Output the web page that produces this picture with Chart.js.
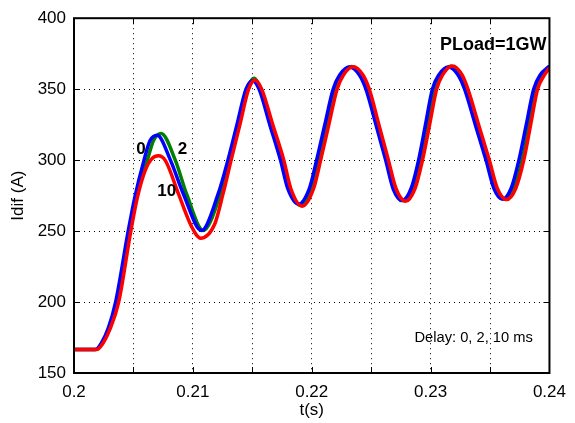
<!DOCTYPE html>
<html>
<head>
<meta charset="utf-8">
<script src="https://cdn.jsdelivr.net/npm/chart.js@4.4.0/dist/chart.umd.min.js"></script>
<style>
  html, body { margin: 0; padding: 0; background: #fff; }
</style>
</head>
<body>
<canvas id="idif" width="575" height="423"></canvas>
<script>
// Idif step response for three controller delays (0, 2, 10 ms)
var t0 = [0.2000, 0.2018, 0.2023, 0.2029, 0.2035, 0.20456, 0.20512, 0.20589, 0.20639, 0.2070,
          0.20811, 0.20921, 0.21073, 0.21212, 0.21295, 0.21371, 0.21447, 0.21502, 0.21557, 0.21647,
          0.21737, 0.21798, 0.21889, 0.2198, 0.22041, 0.2211, 0.2218, 0.22235, 0.22318, 0.22401,
          0.22456, 0.2254, 0.22622, 0.22684, 0.2276, 0.22836, 0.22899, 0.22957, 0.23015, 0.23069,
          0.2315, 0.23231, 0.23286, 0.23376, 0.23466, 0.23533, 0.23605, 0.23677, 0.23743, 0.23805,
          0.23867, 0.23922, 0.2400];
var i0 = [166.5, 166.5, 171, 182, 200, 250, 274, 300, 313.6, 317.5,
          300, 276, 250.4, 276, 300, 325, 350, 356, 350, 325,
          300, 280, 269, 280, 300, 325, 350, 360, 365.6, 360,
          350, 325, 300, 280, 271.5, 280, 300, 325, 350, 360,
          365.6, 360, 350, 325, 300, 280, 272.5, 280, 300, 325,
          350, 360, 366.3];

var t2 = [0.2000, 0.2018, 0.2023, 0.2029, 0.2036, 0.20465, 0.20522, 0.20617, 0.2067, 0.20733,
          0.20852, 0.20948, 0.21087, 0.21231, 0.21309, 0.21383, 0.21458, 0.21513, 0.21568, 0.2166,
          0.21752, 0.21812, 0.21907, 0.22002, 0.22062, 0.2213, 0.2220, 0.22252, 0.22335, 0.22418,
          0.2247, 0.22552, 0.22635, 0.2270, 0.22778, 0.22856, 0.2292, 0.2298, 0.2304, 0.23091,
          0.2317, 0.23249, 0.2330, 0.2339, 0.2348, 0.23549, 0.23625, 0.23701, 0.2377, 0.2383,
          0.2389, 0.2395, 0.2400];
var i2 = [166.5, 166.5, 170.5, 181, 200, 249, 274, 300, 314, 318.8,
          300, 276, 250.4, 276, 300, 325, 350, 357.6, 350, 325,
          300, 280, 268, 280, 300, 325, 350, 360, 366, 360,
          350, 325, 300, 280, 271.3, 280, 300, 325, 350, 360,
          366.2, 360, 350, 325, 300, 280, 272.5, 280, 300, 325,
          350, 360, 365.8];

var t10 = [0.2000, 0.2019, 0.20243, 0.20299, 0.20376, 0.20478, 0.20534, 0.2060, 0.2065, 0.2071,
           0.2077, 0.2088, 0.2099, 0.21065, 0.21184, 0.21253, 0.21322, 0.21396, 0.21469, 0.21524,
           0.21579, 0.21672, 0.21765, 0.21824, 0.2192, 0.22016, 0.22075, 0.22144, 0.22213, 0.22267,
           0.22349, 0.22431, 0.22484, 0.22565, 0.22645, 0.22709, 0.22789, 0.22869, 0.22932, 0.22992,
           0.23051, 0.23101, 0.23183, 0.23265, 0.23314, 0.23404, 0.23494, 0.23562, 0.23639, 0.23716,
           0.23784, 0.23842, 0.2390, 0.23958, 0.2400];
var i10 = [166.5, 166.5, 170.8, 180.2, 200, 250, 274, 293, 300.5, 303,
           299.5, 276, 253, 245, 255, 276, 300, 325, 350, 356.5,
           350, 325, 300, 280, 267.5, 280, 300, 325, 350, 360,
           365.8, 360, 350, 325, 300, 280, 271, 280, 300, 325,
           350, 360, 366.3, 360, 350, 325, 300, 280, 272.2, 280,
           300, 325, 350, 360, 365];

// text placed in data coordinates
var notes = [
  { text: 'PLoad=1GW', t: 0.23527, v: 381, bold: true, size: 18 },
  { text: 'Delay: 0, 2, 10 ms', t: 0.23362, v: 174.6, bold: false, size: 14.7 },
  { text: '0', t: 0.20564, v: 307.3, bold: true, size: 17 },
  { text: '2', t: 0.20913, v: 307.3, bold: true, size: 17 },
  { text: '10', t: 0.2078, v: 277.8, bold: true, size: 17 }
];

var FONT = "'Liberation Sans', Arial, Helvetica, sans-serif";

function pairs(ts, vs) {
  var out = [];
  for (var i = 0; i < ts.length; i++) out.push({ x: ts[i], y: vs[i] });
  return out;
}

// inward ticks on all four sides, the axes box and the text notes
var axesBox = {
  id: 'axesBox',
  afterDatasetsDraw: function(chart) {
    var ctx = chart.ctx;
    var a = chart.chartArea;
    var xs = chart.scales.x, ys = chart.scales.y;
    var len = 6;
    ctx.save();
    ctx.strokeStyle = '#000';
    ctx.lineWidth = 1;
    ctx.beginPath();
    xs.ticks.forEach(function(tk) {
      var px = Math.round(xs.getPixelForValue(tk.value)) + 0.5;
      ctx.moveTo(px, a.bottom); ctx.lineTo(px, a.bottom - len);
      ctx.moveTo(px, a.top); ctx.lineTo(px, a.top + len);
    });
    ys.ticks.forEach(function(tk) {
      var py = Math.round(ys.getPixelForValue(tk.value)) + 0.5;
      ctx.moveTo(a.left, py); ctx.lineTo(a.left + len, py);
      ctx.moveTo(a.right, py); ctx.lineTo(a.right - len, py);
    });
    ctx.stroke();
    ctx.lineWidth = 2;
    ctx.strokeRect(a.left, a.top, a.right - a.left, a.bottom - a.top);

    ctx.fillStyle = '#000';
    ctx.textAlign = 'center';
    ctx.textBaseline = 'middle';
    notes.forEach(function(n) {
      ctx.font = (n.bold ? 'bold ' : '') + n.size + 'px ' + FONT;
      ctx.fillText(n.text, xs.getPixelForValue(n.t), ys.getPixelForValue(n.v));
    });
    ctx.restore();
  }
};

var lineStyle = {
  pointRadius: 0,
  borderWidth: 3.5,
  fill: false,
  cubicInterpolationMode: 'monotone'
};

var ctx = document.getElementById('idif');
var chart = new Chart(ctx, {
  type: 'line',
  data: {
    datasets: [
      Object.assign({ label: '10 ms', data: pairs(t10, i10), borderColor: '#ff0000' }, lineStyle),
      Object.assign({ label: '0 ms', data: pairs(t0, i0), borderColor: '#0000ff' }, lineStyle),
      Object.assign({ label: '2 ms', data: pairs(t2, i2), borderColor: '#008000' }, lineStyle)
    ]
  },
  options: {
    responsive: false,
    animation: false,
    layout: { padding: { top: 17, right: 19, left: 0, bottom: 0 } },
    plugins: {
      legend: { display: false },
      tooltip: { enabled: false }
    },
    scales: {
      x: {
        type: 'linear',
        min: 0.2,
        max: 0.24,
        grid: { color: '#000', lineWidth: 1, drawTicks: false },
        border: { display: false, dash: [1, 4] },
        ticks: {
          stepSize: 0.005,
          autoSkip: false,
          maxRotation: 0,
          padding: 9,
          color: '#000',
          font: { family: FONT, size: 17 },
          callback: function(v) {
            var k = Math.round(v * 1000);
            return k % 10 === 0 ? String(k / 1000) : '';
          }
        },
        title: {
          display: true,
          text: 't(s)',
          color: '#000',
          font: { family: FONT, size: 17 },
          padding: { top: 0, bottom: 2 }
        },
        afterFit: function(s) { s.height = 50; }
      },
      y: {
        min: 150,
        max: 400,
        grid: { color: '#000', lineWidth: 1, drawTicks: false },
        border: { display: false, dash: [1, 4] },
        ticks: {
          stepSize: 50,
          padding: 8,
          color: '#000',
          font: { family: FONT, size: 17 }
        },
        title: {
          display: true,
          text: 'Idif (A)',
          color: '#000',
          font: { family: FONT, size: 17 },
          padding: { top: 8, bottom: 0 }
        },
        afterFit: function(s) { s.width = 74; }
      }
    }
  },
  plugins: [axesBox]
});
</script>
</body>
</html>
